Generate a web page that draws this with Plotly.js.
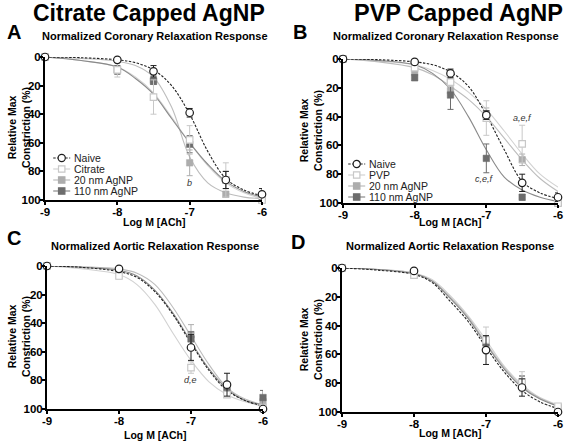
<!DOCTYPE html>
<html><head><meta charset="utf-8">
<script src="https://cdn.plot.ly/plotly-3.0.1.min.js"></script>
<style>html,body{margin:0;padding:0;background:#fff}#chart{width:567px;height:447px}</style>
</head><body><div id="chart"></div>
<script>
// ---------- data ----------
const X6 = [-9, -8, -7.5, -7, -6.5, -6];
const X5 = [-9, -8, -7, -6.5, -6];
const XFIT = [-9, -8.5, -8, -7.75, -7.5, -7.25, -7, -6.75, -6.5, -6.25, -6];
const xTickVals = [-9, -8, -7, -6];
const xTickText = ['-9', '-8', '-7', '-6'];
const yTickVals = [0, 20, 40, 60, 80, 100];
const yTickText = ['0', '20', '40', '60', '80', '100'];

// Panel A: citrate, coronary
const A_naive = [0, 2, 10, 39, 86, 96];      const A_naive_err = [0, 1, 4, 3, 6, 4];
const A_cit = [0, 9, 28, 58, 86, 100];       const A_cit_err = [2, 5, 12, 10, 12, 2];
const A_20 = [0, 9, 16, 74, 96, 100];        const A_20_err = [0, 3, 3, 9, 2, 0];
const A_110 = [0, 9, 17, 61, 86, 98];        const A_110_err = [0, 3, 2, 6, 6, 2];
const A_fit_naive = [0, 0.5, 2, 4, 9, 20, 40, 66, 85, 93, 97];
const A_fit_cit = [0, 2.5, 7, 14, 25, 42, 60, 76, 88, 95, 99];
const A_fit_20 = [0, 1, 3, 6, 14, 35, 70, 88, 95, 98, 99];
const A_fit_110 = [0, 2.5, 7, 15, 26, 43, 60, 75, 87, 94, 98];

// Panel B: PVP, coronary
const B_naive = [0, 2, 10, 39, 86, 96];      const B_naive_err = [0, 1, 3, 3, 6, 3];
const B_pvp = [-1, 6, 16, 41, 59, 100];      const B_pvp_err = [1, 2, 3, 12, 13, 1];
const B_20 = [0, 9, 22, 38, 70, 100];        const B_20_err = [0, 2, 3, 4, 4, 0];
const B_110 = [0, 13, 25, 69, 96, 100];      const B_110_err = [0, 2, 10, 10, 2, 0];
const B_fit_naive = [0, 0.5, 2, 4, 9, 19, 39, 63, 85, 93, 97];
const B_fit_pvp = [0, 1.5, 4, 8, 14, 23, 35, 50, 66, 80, 89];
const B_fit_20 = [0, 2, 6, 11, 19, 28, 40, 55, 70, 83, 92];
const B_fit_110 = [0, 1, 4, 10, 21, 40, 63, 82, 91, 96, 99];

// Panel C: citrate, aortic
const C_naive = [0, 2, 57, 83, 100];         const C_naive_err = [0, 1, 9, 8, 0];
const C_cit = [0, 7, 71, 90, 99];            const C_cit_err = [0, 2, 4, 2, 1];
const C_20 = [0, 3, 48, 88, 95];             const C_20_err = [0, 1, 7, 3, 3];
const C_110 = [0, 3, 51, 87, 92];            const C_110_err = [0, 1, 5, 3, 5];
const C_fit_naive = [0, 1, 4, 8, 18, 34, 54, 73, 87, 94, 98];
const C_fit_cit = [0, 2, 6, 13, 27, 47, 66, 81, 90, 95, 98];
const C_fit_20 = [0, 0.5, 2, 5, 13, 29, 49, 69, 85, 93, 97];
const C_fit_110 = [0, 1, 3, 7, 17, 33, 53, 72, 86, 94, 97];

// Panel D: PVP, aortic
const D_naive = [0, 2, 57, 83, 100];         const D_naive_err = [0, 1, 10, 6, 0];
const D_pvp = [0, 5, 50, 79, 96];            const D_pvp_err = [0, 2, 9, 7, 1];
const D_20 = [0, 5, 52, 80, 97];             const D_20_err = [0, 2, 5, 5, 1];
const D_110 = [0, 4, 52, 79, 97];            const D_110_err = [0, 2, 4, 4, 1];
const D_fit_naive = [0, 1.5, 4.5, 10, 23, 37, 55, 72, 85, 93, 97.5];
const D_fit_pvp = [0, 1, 3.5, 8, 19, 33, 50, 68, 81, 90, 95];
const D_fit_20 = [0, 1, 3.5, 9, 20, 34, 52, 69, 82, 90.5, 95.5];
const D_fit_110 = [0, 1, 4, 9, 21, 35, 53, 70, 83, 91, 96];

const legendA = ['Naive', 'Citrate', '20 nm AgNP', '110 nm AgNP'];
const legendB = ['Naive', 'PVP', '20 nm AgNP', '110 nm AgNP'];

// ---------- styles ----------
const W = 567, H = 447;
const px = x => x / W, py = y => 1 - y / H;
const COL = {
  naive: '#1e1e1e', cap: '#c8c8c8', n20: '#adadad', n110: '#6d6d6d',
  fnaive: '#222222', fcap: '#d2d2d2', f20: '#bdbdbd', f110: '#8a8a8a'
};
const FONT = 'Arial, "Liberation Sans", sans-serif';

const traces = [];
function fit(ax, y, color, dash) {
  traces.push({x: XFIT, y: y, xaxis: 'x' + ax, yaxis: 'y' + ax, mode: 'lines',
    line: {color: color, width: 1.1, shape: 'spline', smoothing: 1, dash: dash || 'solid'},
    showlegend: false, hoverinfo: 'skip', cliponaxis: false});
}
function pts(ax, xs, y, err, kind, name) {
  let marker;
  if (kind === 'naive') marker = {symbol: 'circle', size: 7.5, color: '#ffffff', line: {color: COL.naive, width: 1.2}};
  else if (kind === 'cap') marker = {symbol: 'square', size: 6.5, color: '#ffffff', line: {color: COL.cap, width: 1.2}};
  else if (kind === 'n20') marker = {symbol: 'square', size: 6.5, color: COL.n20, line: {color: COL.n20, width: 0.5}};
  else marker = {symbol: 'square', size: 6.5, color: COL.n110, line: {color: COL.n110, width: 0.5}};
  const ec = kind === 'naive' ? COL.naive : (kind === 'cap' ? COL.cap : (kind === 'n20' ? COL.n20 : COL.n110));
  traces.push({x: xs, y: y, name: name, xaxis: 'x' + ax, yaxis: 'y' + ax, mode: 'markers', marker: marker,
    error_y: {type: 'data', array: err, visible: true, color: ec, thickness: 1, width: 3},
    showlegend: false, cliponaxis: false});
}
function panel(ax, xs, fits, data, names) {
  fit(ax, fits[1], COL.fcap);
  fit(ax, fits[2], COL.f20);
  fit(ax, fits[3], COL.f110);
  fit(ax, fits[0], COL.fnaive, '2.5px,1.5px');
  pts(ax, xs, data[2][0], data[2][1], 'n20', names[2]);
  pts(ax, xs, data[3][0], data[3][1], 'n110', names[3]);
  pts(ax, xs, data[1][0], data[1][1], 'cap', names[1]);
  pts(ax, xs, data[0][0], data[0][1], 'naive', names[0]);
}
panel('', X6, [A_fit_naive, A_fit_cit, A_fit_20, A_fit_110],
  [[A_naive, A_naive_err], [A_cit, A_cit_err], [A_20, A_20_err], [A_110, A_110_err]], legendA);
panel('2', X6, [B_fit_naive, B_fit_pvp, B_fit_20, B_fit_110],
  [[B_naive, B_naive_err], [B_pvp, B_pvp_err], [B_20, B_20_err], [B_110, B_110_err]], legendB);
panel('3', X5, [C_fit_naive, C_fit_cit, C_fit_20, C_fit_110],
  [[C_naive, C_naive_err], [C_cit, C_cit_err], [C_20, C_20_err], [C_110, C_110_err]], legendA);
panel('4', X5, [D_fit_naive, D_fit_pvp, D_fit_20, D_fit_110],
  [[D_naive, D_naive_err], [D_pvp, D_pvp_err], [D_20, D_20_err], [D_110, D_110_err]], legendB);

function xax(dom, anchor) {
  return {domain: dom, anchor: anchor, range: [-9, -6], showline: true, linewidth: 2, linecolor: '#000',
    ticks: 'outside', ticklen: 3, tickwidth: 2, tickcolor: '#000', tickmode: 'array',
    tickvals: xTickVals, ticktext: xTickText.map(t => '<b>' + t + '</b>'),
    tickfont: {family: FONT, size: 11.5, color: '#000'}, ticklabelstandoff: -3,
    showgrid: false, zeroline: false, fixedrange: true};
}
function yax(dom, anchor) {
  return {domain: dom, anchor: anchor, range: [100, 0], showline: true, linewidth: 2, linecolor: '#000',
    ticks: 'outside', ticklen: 3, tickwidth: 2, tickcolor: '#000', tickmode: 'array',
    tickvals: yTickVals, ticktext: yTickText.map(t => '<b>' + t + '</b>'),
    tickfont: {family: FONT, size: 11.5, color: '#000'}, ticklabelstandoff: -3,
    showgrid: false, zeroline: false, fixedrange: true};
}

const ann = [];
function txt(x, y, text, size, opts) {
  ann.push(Object.assign({x: px(x), y: py(y), xref: 'paper', yref: 'paper', text: text, showarrow: false,
    font: {family: FONT, size: size, color: '#000'}, xanchor: 'center', yanchor: 'middle'}, opts || {}));
}
// main titles
txt(149, 13, '<b>Citrate Capped AgNP</b>', 23);
txt(458, 13, '<b>PVP Capped AgNP</b>', 23.5);
// panel letters
txt(14, 32, '<b>A</b>', 20);
txt(300, 32, '<b>B</b>', 20);
txt(14, 238, '<b>C</b>', 20);
txt(298, 242, '<b>D</b>', 20);
// subtitles
txt(155, 36, '<b>Normalized Coronary Relaxation Response</b>', 11);
txt(446, 36, '<b>Normalized Coronary Relaxation Response</b>', 11);
txt(155, 246, '<b>Normalized Aortic Relaxation Response</b>', 11);
txt(450, 246, '<b>Normalized Aortic Relaxation Response</b>', 11);
// axis titles
const xTitle = '<b>Log M [ACh]</b>';
const yTitle = '<b>Relative Max<br>Constriction (%)</b>';
txt(154, 222, xTitle, 10.5);
txt(450, 222, xTitle, 10.5);
txt(155, 435, xTitle, 10.5);
txt(450, 433, xTitle, 10.5);
txt(19, 128, yTitle, 10.5, {textangle: -90});
txt(311, 131, yTitle, 10.5, {textangle: -90});
txt(19, 337, yTitle, 10.5, {textangle: -90});
txt(311, 340, yTitle, 10.5, {textangle: -90});
// significance letters
function sig(ax, x, y, text) {
  ann.push({x: x, y: y, xref: 'x' + ax, yref: 'y' + ax, text: '<i>' + text + '</i>', showarrow: false,
    font: {family: FONT, size: 9, color: '#333'}, xanchor: 'center', yanchor: 'middle'});
}
sig('', -7, 88, 'b');
sig('2', -6.5, 41, 'a,e,f');
sig('2', -7.03, 83, 'c,e,f');
sig('3', -7.01, 80, 'd,e');

// custom compact legends
const shapes = [];
function legend(x0, rows, names) {
  const kinds = ['naive', 'cap', 'n20', 'n110'];
  rows.forEach((y, i) => {
    const k = kinds[i];
    const lc = k === 'naive' ? COL.fnaive : (k === 'cap' ? COL.fcap : (k === 'n20' ? COL.f20 : COL.f110));
    shapes.push({type: 'line', xref: 'paper', yref: 'paper', x0: px(x0 - 8.5), x1: px(x0 + 8.5), y0: py(y), y1: py(y),
      line: {color: lc, width: 1.2, dash: k === 'naive' ? '2.5px,1.5px' : 'solid'}});
    if (k === 'naive') {
      shapes.push({type: 'circle', xref: 'paper', yref: 'paper', x0: px(x0 - 3.6), x1: px(x0 + 3.6), y0: py(y - 3.6), y1: py(y + 3.6),
        fillcolor: '#fff', line: {color: COL.naive, width: 1.2}});
    } else {
      const fc = k === 'cap' ? '#fff' : (k === 'n20' ? COL.n20 : COL.n110);
      const oc = k === 'cap' ? COL.cap : fc;
      shapes.push({type: 'rect', xref: 'paper', yref: 'paper', x0: px(x0 - 3.2), x1: px(x0 + 3.2), y0: py(y - 3.2), y1: py(y + 3.2),
        fillcolor: fc, line: {color: oc, width: 1.2}});
    }
    txt(x0 + 10, y, names[i], 10.5, {xanchor: 'left', font: {family: FONT, size: 10.5, color: '#222'}});
  });
}
legend(61.7, [158, 169, 180, 191], legendA);
legend(356.7, [164, 175, 186, 197], legendB);

const layout = {
  width: W, height: H, margin: {l: 0, r: 0, t: 0, b: 0},
  paper_bgcolor: '#fff', plot_bgcolor: 'rgba(0,0,0,0)', showlegend: false,
  xaxis: xax([px(45), px(262)], 'y'), yaxis: yax([py(200), py(57)], 'x'),
  xaxis2: xax([px(343), px(558)], 'y2'), yaxis2: yax([py(203), py(59)], 'x2'),
  xaxis3: xax([px(47), px(263)], 'y3'), yaxis3: yax([py(409), py(266)], 'x3'),
  xaxis4: xax([px(342), px(558)], 'y4'), yaxis4: yax([py(412), py(268)], 'x4'),
  annotations: ann, shapes: shapes
};
Plotly.newPlot('chart', traces, layout, {staticPlot: true, displayModeBar: false});
</script></body></html>
